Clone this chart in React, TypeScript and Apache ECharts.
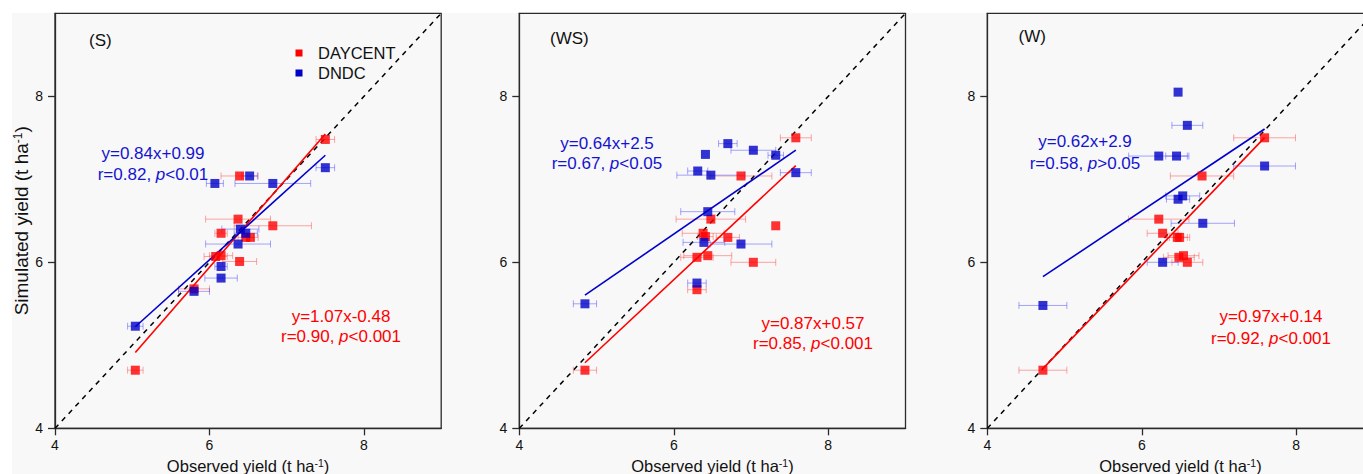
import React, { useEffect, useRef } from 'react';
import * as echarts from 'echarts';

const FONT = '"Liberation Sans", Arial, sans-serif';
const RED = '#ff0000';
const BLUE = '#0000c8';
const RED_ERR = 'rgba(255,60,60,0.45)';
const BLUE_ERR = 'rgba(60,60,255,0.45)';
const RED_TEXT = '#ff0000';
const BLUE_TEXT = '#1414d0';

// Axis
const axisMin = 4;
const axisMax = 9;
const tickValues = [4, 6, 8];

const panelTitles = ['(S)', '(WS)', '(W)'];
const legendNames = ['DAYCENT', 'DNDC'];

// Panel S
const sDaycentObs = [7.5, 6.39, 6.37, 6.82, 6.15, 6.47, 6.53, 6.08, 6.15, 6.39, 5.8, 5.04];
const sDaycentSim = [7.48, 7.04, 6.52, 6.44, 6.35, 6.3, 6.3, 6.07, 6.08, 6.01, 5.68, 4.7];
const sDaycentErr = [0.12, 0.24, 0.42, 0.5, 0.08, 0.1, 0.1, 0.15, 0.15, 0.22, 0.2, 0.1];
const sDndcObs = [7.5, 6.52, 6.07, 6.82, 6.4, 6.47, 6.37, 6.15, 6.15, 5.8, 5.04];
const sDndcSim = [7.14, 7.04, 6.95, 6.95, 6.4, 6.35, 6.22, 5.95, 5.81, 5.65, 5.23];
const sDndcErr = [0.12, 0.1, 0.11, 0.49, 0.24, 0.15, 0.42, 0.08, 0.21, 0.2, 0.1];

// Panel WS
const wsDaycentObs = [7.58, 6.87, 6.48, 6.38, 6.41, 6.7, 7.32, 6.3, 6.44, 7.03, 6.3, 4.85];
const wsDaycentSim = [7.5, 7.04, 6.52, 6.35, 6.31, 6.3, 6.44, 6.06, 6.08, 6.0, 5.67, 4.7];
const wsDaycentErr = [0.2, 0.4, 0.45, 0.27, 0.1, 0.15, 0, 0.21, 0.31, 0.29, 0.12, 0.15];
const wsDndcObs = [6.7, 7.03, 7.32, 6.41, 6.31, 6.48, 7.58, 6.44, 6.39, 6.87, 6.3, 4.85];
const wsDndcSim = [7.43, 7.35, 7.29, 7.3, 7.1, 7.05, 7.08, 6.61, 6.24, 6.22, 5.75, 5.5];
const wsDndcErr = [0.12, 0.29, 0.1, 0, 0.13, 0.44, 0.2, 0.35, 0.27, 0.4, 0.12, 0.15];

// Panel W
const wDaycentObs = [7.59, 6.78, 6.22, 6.27, 6.46, 6.49, 6.48, 6.54, 6.59, 4.72];
const wDaycentSim = [7.5, 7.04, 6.52, 6.35, 6.3, 6.3, 6.06, 6.08, 6.0, 4.7];
const wDaycentErr = [0.4, 0.41, 0.39, 0.2, 0.13, 0.13, 0.2, 0.2, 0.2, 0.31];
const wDndcObs = [6.47, 6.59, 6.22, 6.45, 7.59, 6.53, 6.47, 6.79, 6.27, 4.72];
const wDndcSim = [8.05, 7.65, 7.28, 7.28, 7.16, 6.8, 6.76, 6.47, 6.0, 5.48];
const wDndcErr = [0, 0.2, 0.39, 0.14, 0.4, 0.22, 0.15, 0.41, 0.2, 0.31];

// Regression statistics
const daycentSlope = [1.07, 0.87, 0.97];
const daycentIntercept = [-0.48, 0.57, 0.14];
const daycentR = [0.9, 0.85, 0.92];
const daycentP = ['<0.001', '<0.001', '<0.001'];
const dndcSlope = [0.84, 0.64, 0.62];
const dndcIntercept = [0.99, 2.5, 2.9];
const dndcR = [0.82, 0.67, 0.58];
const dndcP = ['<0.01', '<0.05', '>0.05'];

const panelsData = [
  { dObs: sDaycentObs, dSim: sDaycentSim, dErr: sDaycentErr, nObs: sDndcObs, nSim: sDndcSim, nErr: sDndcErr },
  { dObs: wsDaycentObs, dSim: wsDaycentSim, dErr: wsDaycentErr, nObs: wsDndcObs, nSim: wsDndcSim, nErr: wsDndcErr },
  { dObs: wDaycentObs, dSim: wDaycentSim, dErr: wDaycentErr, nObs: wDndcObs, nSim: wDndcSim, nErr: wDndcErr },
];

// Layout (pixels)
const gridLefts = [55, 519.3, 987.3];
const gridTop = 13.3;
const gridWidth = 386.2;
const gridHeight = 415;
const titlePos = [[89, 40.5], [550, 38.5], [1018.5, 36]];
const dndcTextPos = [[153, 153.5, 174], [607, 143.5, 163.5], [1085, 141, 163]];
const daycentTextPos = [[341, 316, 336.5], [813, 323.5, 343], [1271, 316, 338]];

function eqText(a: number, b: number) {
  return `y=${a}x${b < 0 ? '-' : '+'}${Math.abs(b)}`;
}

function errRender(color: string) {
  return (params: any, api: any) => {
    const x = api.value(0);
    const y = api.value(1);
    const e = api.value(2);
    if (!e) return null;
    const p1 = api.coord([x - e, y]);
    const p2 = api.coord([x + e, y]);
    const h = 3.5;
    const st = { stroke: color, lineWidth: 1 };
    return {
      type: 'group',
      children: [
        { type: 'line', shape: { x1: p1[0], y1: p1[1], x2: p2[0], y2: p2[1] }, style: st },
        { type: 'line', shape: { x1: p1[0], y1: p1[1] - h, x2: p1[0], y2: p1[1] + h }, style: st },
        { type: 'line', shape: { x1: p2[0], y1: p2[1] - h, x2: p2[0], y2: p2[1] + h }, style: st },
      ],
    };
  };
}

function textEl(x: number, y: number, text: string, color: string, size: number, align = 'center') {
  return {
    type: 'text',
    x,
    y,
    silent: true,
    z: 10,
    style: {
      text,
      fill: color,
      fontSize: size,
      fontFamily: FONT,
      align,
      verticalAlign: 'middle',
      rich: {
        i: { fontStyle: 'italic', fontSize: size, fontFamily: FONT, fill: color },
      },
    },
  };
}

function buildOption() {
  const grid: any[] = [];
  const xAxis: any[] = [];
  const yAxis: any[] = [];
  const series: any[] = [];
  const graphic: any[] = [];

  graphic.push({
    type: 'rect',
    shape: { x: 12, y: 13, width: 1400, height: 470 },
    style: { fill: '#f8f8f8' },
    z: -10,
    silent: true,
  });

  panelsData.forEach((p, i) => {
    grid.push({
      left: gridLefts[i],
      top: gridTop,
      width: gridWidth,
      height: gridHeight,
      outerBoundsMode: 'none',
      containLabel: false,
      show: true,
      borderColor: '#2b2b2b',
      borderWidth: 1.3,
      backgroundColor: 'transparent',
    });
    const axisCommon = {
      min: axisMin,
      max: axisMax,
      interval: 2,
      gridIndex: i,
      splitLine: { show: false },
      axisLine: { show: true, onZero: false, lineStyle: { color: '#2b2b2b', width: 1.3 } },
      axisTick: { show: true, inside: false, length: 7, customValues: tickValues, lineStyle: { color: '#2b2b2b', width: 1.3 } },
    };
    xAxis.push({
      ...axisCommon,
      type: 'value',
      name: 'Observed yield (t ha{sup|-1})',
      nameLocation: 'middle',
      nameGap: 21,
      nameTextStyle: {
        fontSize: 16.5,
        lineHeight: 17,
        fontFamily: FONT,
        color: '#111',
        rich: { sup: { fontSize: 10.5, lineHeight: 17, fontFamily: FONT, color: '#111', verticalAlign: 'top' } },
      },
      axisLabel: { customValues: tickValues, margin: 10, fontSize: 14, fontFamily: FONT, color: '#111' },
    });
    yAxis.push({
      ...axisCommon,
      type: 'value',
      name: i === 0 ? 'Simulated yield (t ha{sup|-1})' : '',
      nameLocation: 'middle',
      nameGap: 21,
      nameTextStyle: {
        fontSize: 19,
        fontFamily: FONT,
        color: '#111',
        rich: { sup: { fontSize: 12, fontFamily: FONT, color: '#111', verticalAlign: 'top' } },
      },
      axisLabel: { customValues: tickValues, margin: 12, fontSize: 14, fontFamily: FONT, color: '#111' },
    });

    // 1:1 line
    series.push({
      type: 'line',
      xAxisIndex: i,
      yAxisIndex: i,
      data: [[axisMin, axisMin], [axisMax, axisMax]],
      symbol: 'none',
      silent: true,
      lineStyle: { color: '#000', width: 1.5, type: [5, 5] },
      z: 2,
    });
    // error bars
    series.push({
      type: 'custom',
      xAxisIndex: i,
      yAxisIndex: i,
      renderItem: errRender(RED_ERR),
      data: p.dObs.map((x, j) => [x, p.dSim[j], p.dErr[j]]),
      encode: { x: 0, y: 1 },
      silent: true,
      z: 3,
    });
    series.push({
      type: 'custom',
      xAxisIndex: i,
      yAxisIndex: i,
      renderItem: errRender(BLUE_ERR),
      data: p.nObs.map((x, j) => [x, p.nSim[j], p.nErr[j]]),
      encode: { x: 0, y: 1 },
      silent: true,
      z: 3,
    });
    // regression lines
    const dMin = Math.min(...p.dObs);
    const dMax = Math.max(...p.dObs);
    const nMin = Math.min(...p.nObs);
    const nMax = Math.max(...p.nObs);
    series.push({
      type: 'line',
      xAxisIndex: i,
      yAxisIndex: i,
      data: [
        [dMin, daycentSlope[i] * dMin + daycentIntercept[i]],
        [dMax, daycentSlope[i] * dMax + daycentIntercept[i]],
      ],
      symbol: 'none',
      silent: true,
      lineStyle: { color: RED, width: 1.6 },
      z: 4,
    });
    series.push({
      type: 'line',
      xAxisIndex: i,
      yAxisIndex: i,
      data: [
        [nMin, dndcSlope[i] * nMin + dndcIntercept[i]],
        [nMax, dndcSlope[i] * nMax + dndcIntercept[i]],
      ],
      symbol: 'none',
      silent: true,
      lineStyle: { color: '#0000cc', width: 1.6 },
      z: 4,
    });
    // points
    series.push({
      type: 'scatter',
      name: legendNames[0],
      xAxisIndex: i,
      yAxisIndex: i,
      symbol: 'rect',
      symbolSize: 9,
      itemStyle: { color: RED },
      data: p.dObs.map((x, j) => [x, p.dSim[j]]),
      z: 5,
    });
    series.push({
      type: 'scatter',
      name: legendNames[1],
      xAxisIndex: i,
      yAxisIndex: i,
      symbol: 'rect',
      symbolSize: 9,
      itemStyle: { color: BLUE },
      data: p.nObs.map((x, j) => [x, p.nSim[j]]),
      z: 6,
    });

    // texts
    graphic.push(textEl(titlePos[i][0], titlePos[i][1], panelTitles[i], '#111', 17, 'left'));
    graphic.push(textEl(dndcTextPos[i][0], dndcTextPos[i][1], eqText(dndcSlope[i], dndcIntercept[i]), BLUE_TEXT, 17));
    graphic.push(
      textEl(dndcTextPos[i][0], dndcTextPos[i][2], `r=${dndcR[i].toFixed(2)}, {i|p}${dndcP[i]}`, BLUE_TEXT, 17)
    );
    graphic.push(
      textEl(daycentTextPos[i][0], daycentTextPos[i][1], eqText(daycentSlope[i], daycentIntercept[i]), RED_TEXT, 17)
    );
    graphic.push(
      textEl(daycentTextPos[i][0], daycentTextPos[i][2], `r=${daycentR[i].toFixed(2)}, {i|p}${daycentP[i]}`, RED_TEXT, 17)
    );
  });

  // legend (panel S)
  const legendColors = [RED, BLUE];
  legendNames.forEach((n, k) => {
    const cy = 53 + k * 20;
    graphic.push({
      type: 'rect',
      shape: { x: 295.5, y: cy - 3.5, width: 7, height: 7 },
      style: { fill: legendColors[k] },
      z: 10,
      silent: true,
    });
    graphic.push(textEl(318, cy, n, '#111', 16.5, 'left'));
  });

  return {
    animation: false,
    backgroundColor: '#ffffff',
    textStyle: { fontFamily: FONT },
    grid,
    xAxis,
    yAxis,
    series,
    graphic,
  };
}

export default function App() {
  const ref = useRef<HTMLDivElement>(null);
  useEffect(() => {
    if (!ref.current) return;
    const chart = echarts.init(ref.current, undefined, { renderer: 'svg' });
    chart.setOption(buildOption() as any);
    return () => chart.dispose();
  }, []);
  return (
    <div
      ref={ref}
      style={{ position: 'fixed', left: 0, top: 0, width: 1363, height: 474 }}
    />
  );
}
